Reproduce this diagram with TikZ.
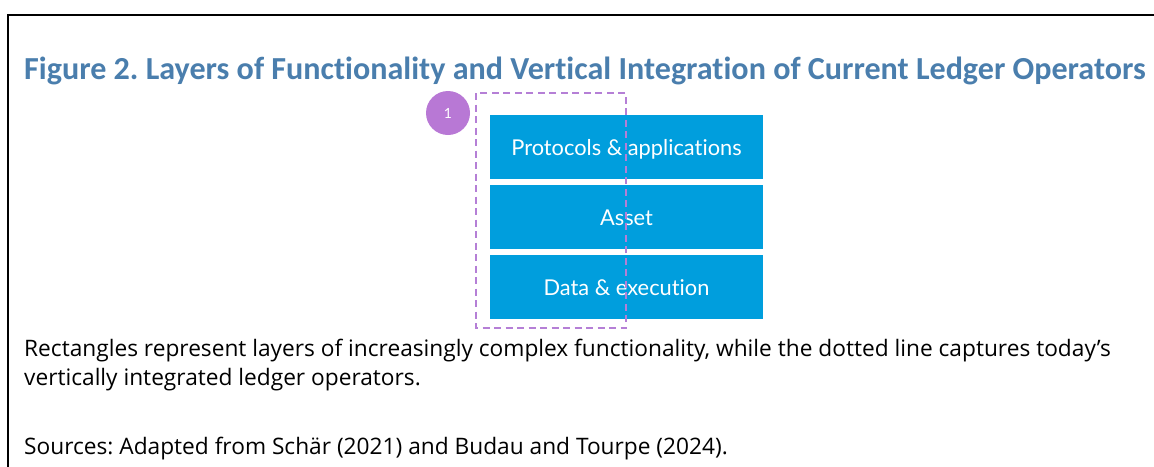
\documentclass[tikz,border=0pt]{standalone}
\usepackage{fontspec}
\setmainfont{Open Sans}
\newfontfamily\titlefont{Carlito}[Ligatures=NoCommon]
\newfontfamily\boxfont{Lato}[Ligatures=NoCommon]
\definecolor{titleblue}{HTML}{4A7EAD}
\definecolor{layerblue}{HTML}{009EDD}
\definecolor{dashpurple}{HTML}{B57FD6}
\definecolor{circpurple}{HTML}{B878D5}
\frenchspacing
\begin{document}
\begin{tikzpicture}[x=1pt,y=-1pt,
  layer/.style={fill=layerblue, draw=none, minimum width=273pt, minimum height=64pt, inner sep=0pt,
    text height=17pt, text depth=0pt,
    text=white, font=\boxfont\fontsize{21.8}{24}\selectfont},
  caption/.style={anchor=base west, inner sep=0pt, text=black, font=\fontsize{22.7}{26}\selectfont},
  frame/.style={line width=2.2pt, black},
  group/.style={draw=dashpurple, line width=1.6pt, dash pattern=on 7pt off 4.5pt}
]
\useasboundingbox (0,0) rectangle (1154,466);
\coordinate (fbl) at (8,470);
\coordinate (ftl) at (8,15);
\coordinate (ftr) at (1160,15);
\begin{scope}
\clip (0,0) rectangle (1154,466);
\draw[frame] (fbl) -- (ftl) -- (ftr);
\end{scope}
\node[anchor=base west, inner sep=0pt, text=titleblue, font=\titlefont\bfseries\fontsize{32.1}{36}\selectfont] (title) at (24,79)
  {Figure 2. Layers of Functionality and Vertical Integration of Current Ledger Operators};
\node[layer] (proto) at (626.5,147) {Protocols \& applications};
\node[layer] (asset) at (626.5,217) {Asset};
\node[layer] (data) at (626.5,287) {Data \& execution};
\draw[group] (476,93) rectangle (626,328);
\node[circle, fill=circpurple, minimum size=44pt, inner sep=0pt, text=white, font=\boxfont\fontsize{14}{16}\selectfont] (one) at (448,113) {1};
\node[caption] (cap1) at (24,356) {Rectangles represent layers of increasingly complex functionality, while the dotted line captures today’s};
\node[caption] (cap2) at (24,385) {vertically integrated ledger operators.};
\node[caption] (src) at (24,454) {Sources: Adapted from Schär (2021) and Budau and Tourpe (2024).};
\end{tikzpicture}
\end{document}
